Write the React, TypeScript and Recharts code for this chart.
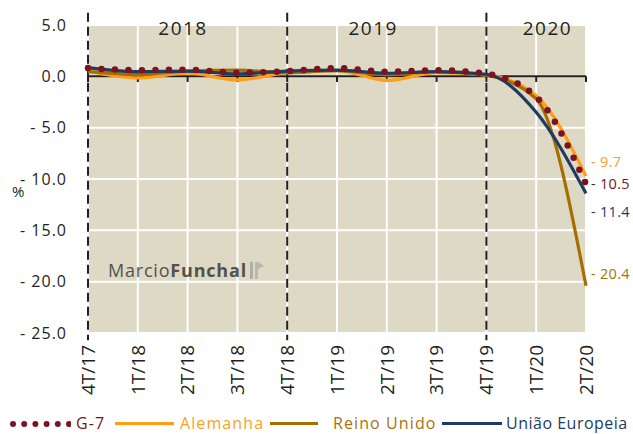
import React from 'react'
import {
  LineChart,
  Line,
  XAxis,
  YAxis,
  CartesianGrid,
  ReferenceLine,
  Label,
} from 'recharts'

const categories = ['4T/17', '1T/18', '2T/18', '3T/18', '4T/18', '1T/19', '2T/19', '3T/19', '4T/19', '1T/20', '2T/20']
const g7 = [0.8, 0.6, 0.65, 0.35, 0.5, 0.8, 0.45, 0.6, 0.25, -2.0, -10.5]
const alemanha = [0.5, -0.15, 0.3, -0.35, 0.35, 0.55, -0.4, 0.35, 0.15, -1.9, -9.7]
const reinoUnido = [0.45, 0.2, 0.5, 0.6, 0.35, 0.55, 0.15, 0.45, 0.1, -2.2, -20.4]
const uniaoEuropeia = [0.85, 0.45, 0.5, 0.25, 0.5, 0.6, 0.3, 0.45, 0.2, -3.5, -11.4]
const yTicks = [5, 0, -5, -10, -15, -20, -25]
const years = ['2018', '2019', '2020']
const yearStarts = ['4T/17', '4T/18', '4T/19']

const data = categories.map((name, i) => ({
  name,
  g7: g7[i],
  alemanha: alemanha[i],
  reinoUnido: reinoUnido[i],
  ue: uniaoEuropeia[i],
}))

const FONT = '"Open Sans", "DejaVu Sans", sans-serif'
const INK = '#231f20'

// cores e deslocamento do rótulo final de cada série
const series = [
  { key: 'alemanha', name: 'Alemanha', color: '#FF9D16', text: '#F7A12A', dy: -14 },
  { key: 'reinoUnido', name: 'Reino Unido', color: '#A66E00', text: '#A8720A', dy: -12 },
  { key: 'ue', name: 'União Europeia', color: '#1F3B63', text: '#1F3B63', dy: 19 },
  { key: 'g7', name: 'G-7', color: '#7A1424', text: '#7A1424', dy: 0 },
]

const yearDx = [95, 86, 61]

const fmt = (v: number) => (v < 0 ? `- ${Math.abs(v).toFixed(1)}` : v.toFixed(1))

const XTick = ({ x, y, payload }: any) => (
  <text
    x={0}
    y={0}
    transform={`translate(${x},${y + 12}) rotate(-90)`}
    textAnchor="end"
    dy="0.36em"
    fontSize={19}
    fontFamily={FONT}
    fill={INK}
  >
    {payload.value}
  </text>
)

const endLabel = (s: (typeof series)[number]) => (props: any) => {
  const { x, y, index, value } = props
  if (index !== categories.length - 1) return null
  return (
    <text
      x={x + 5}
      y={y + s.dy}
      dy="0.35em"
      fontSize={14.5}
      fontFamily={FONT}
      fill={s.text}
      letterSpacing={0.3}
    >
      {fmt(value)}
    </text>
  )
}

// legenda desenhada à mão (posições como no original)
function LegendRow() {
  const line = (color: string, left: number, w: number) => (
    <div style={{ position: 'absolute', left, top: 10, width: w, height: 3, background: color }} />
  )
  const txt = (t: string, color: string, left: number, sp = 1.1) => (
    <div style={{ position: 'absolute', left, top: 0, color, fontSize: 16, lineHeight: '22px', letterSpacing: sp }}>{t}</div>
  )
  return (
    <div
      style={{
        position: 'absolute',
        left: 0,
        top: 412,
        width: 633,
        height: 22,
        fontFamily: FONT,
        whiteSpace: 'nowrap',
      }}
    >
      <svg width={62} height={8} style={{ position: 'absolute', left: 9, top: 8 }}>
        {[0, 1, 2, 3, 4, 5].map((i) => (
          <circle key={i} cx={4 + i * 11.2} cy={4} r={3} fill="#7A1424" />
        ))}
      </svg>
      {txt('G-7', '#7A1424', 76)}
      {line('#FF9D16', 115, 59)}
      {txt('Alemanha', '#F7A12A', 180)}
      {line('#A66E00', 270, 48)}
      {txt('Reino Unido', '#A8720A', 333)}
      {line('#1F3B63', 442, 60)}
      {txt('União Europeia', '#1F3B63', 506, 0.5)}
    </div>
  )
}

function Watermark() {
  return (
    <div
      style={{
        position: 'absolute',
        left: 108,
        top: 258,
        fontFamily: FONT,
        fontSize: 18,
        letterSpacing: 0.8,
        color: '#3a3a3a',
        opacity: 0.85,
        display: 'flex',
        alignItems: 'center',
      }}
    >
      <span>Marcio</span>
      <span style={{ fontWeight: 700 }}>Funchal</span>
      <svg width={18} height={20} style={{ marginLeft: 1, opacity: 0.6 }}>
        <rect x={2} y={2} width={3} height={17} fill="#888" />
        <rect x={7} y={2} width={3} height={17} fill="#999" />
        <path d="M10 2 L16 6 L10 9 Z" fill="#999" />
      </svg>
    </div>
  )
}

export default function App() {
  return (
    <div style={{ position: 'absolute', left: 0, top: 0, width: 633, height: 434, background: '#fff', overflow: 'hidden' }}>
      <LineChart
        width={633}
        height={434}
        data={data}
        margin={{ top: 25, right: 47, left: 0, bottom: 0 }}
      >
        <CartesianGrid fill="#DDD9C4" fillOpacity={1} stroke="#ffffff" strokeWidth={2} />
        <XAxis
          dataKey="name"
          interval={0}
          height={101}
          axisLine={false}
          tickLine={false}
          tickSize={0}
          tickMargin={0}
          tick={<XTick />}
        />
        <YAxis
          width={88}
          domain={[-25, 5]}
          ticks={yTicks}
          interval={0}
          axisLine={false}
          tickLine={false}
          tickSize={0}
          tickMargin={21}
          tickFormatter={fmt}
          tick={{ fontSize: 16, fill: INK, fontFamily: FONT, letterSpacing: 1 }}
        >
          <Label
            value="%"
            position="insideLeft"
            offset={12}
            dy={13}
            style={{ fontSize: 15, fill: INK, fontFamily: FONT }}
          />
        </YAxis>
        <ReferenceLine y={0} stroke={INK} strokeWidth={2} />
        {categories.map((c) => (
          <ReferenceLine
            key={'t' + c}
            segment={[{ x: c, y: 0 }, { x: c, y: -0.55 }]}
            stroke={INK}
            strokeWidth={2}
            ifOverflow="visible"
          />
        ))}
        {yearStarts.map((c, i) => (
          <ReferenceLine
            key={'y' + c}
            segment={[{ x: c, y: 6.2 }, { x: c, y: -25.7 }]}
            stroke={INK}
            strokeWidth={2}
            strokeDasharray="9 5"
            ifOverflow="visible"
            label={(p: any) => (
              <text
                x={p.viewBox.x + yearDx[i]}
                y={28}
                dy="0.36em"
                textAnchor="middle"
                fontSize={19}
                fontFamily={FONT}
                fill={INK}
                letterSpacing={1.5}
              >
                {years[i]}
              </text>
            )}
          />
        ))}
        {series.map((s) => (
          <Line
            key={s.key}
            type="monotone"
            dataKey={s.key}
            name={s.name}
            stroke={s.color}
            strokeWidth={s.key === 'g7' ? 6.5 : 3.2}
            strokeDasharray={s.key === 'g7' ? '0 13.5' : undefined}
            strokeLinecap={s.key === 'g7' ? 'round' : 'butt'}
            dot={false}
            activeDot={false}
            isAnimationActive={false}
            label={endLabel(s)}
          />
        ))}
      </LineChart>
      <Watermark />
      <LegendRow />
    </div>
  )
}
